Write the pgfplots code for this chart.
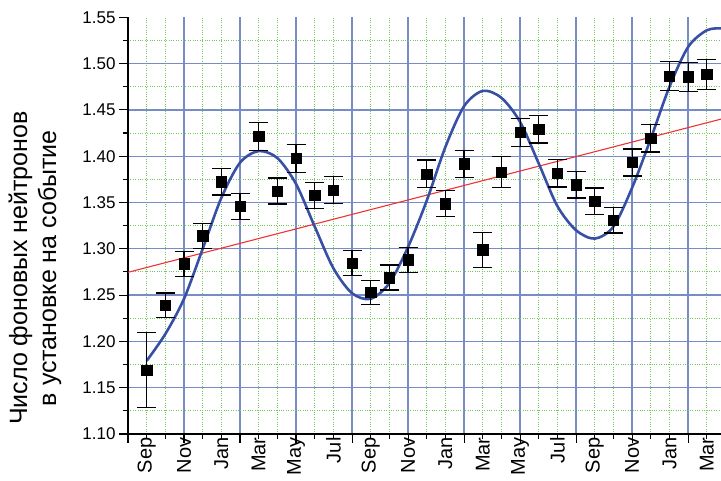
\documentclass[border=0pt]{standalone}
\usepackage{fontspec}
\setmainfont{Liberation Sans}
\usepackage{pgfplots}
\pgfplotsset{compat=1.18}
\definecolor{gridblue}{RGB}{120,140,200}
\definecolor{gridgreen}{RGB}{110,200,90}
\definecolor{fitblue}{RGB}{55,80,165}
\definecolor{fitred}{RGB}{240,50,50}
\begin{document}
\begin{tikzpicture}
\begin{axis}[
 name=ax, scale only axis, width=593bp, height=416.7bp,
 xmin=-1, xmax=30.76, ymin=1.10, ymax=1.55,
 axis lines*=left, axis line style={line width=1.3bp, black, -},
 tick align=outside, tick style={black, line width=1.1bp},
 major tick length=9bp, minor tick length=5bp,
 xtick={-1,2,5,8,11,14,17,20,23,26,29}, xticklabels={},
 minor xtick={0,1,...,30},
 extra x ticks={0,2,...,30},
 extra x tick labels={Sep,Nov,Jan,Mar,May,Jul,Sep,Nov,Jan,Mar,May,Jul,Sep,Nov,Jan,Mar},
 extra x tick style={grid=none, major tick length=0pt},
 xticklabel style={rotate=90, anchor=east, font=\fontsize{20bp}{20bp}\selectfont},
 ytick={1.10,1.15,1.20,1.25,1.30,1.35,1.40,1.45,1.50},
 minor ytick={1.125,1.175,1.225,1.275,1.325,1.375,1.425,1.475,1.525},
 extra y ticks={1.55}, extra y tick style={grid=none},
 grid=both,
 major grid style={gridblue, line width=1.3bp},
 minor grid style={gridgreen, dotted, line width=0.9bp},
 yticklabel style={font=\fontsize{17bp}{17bp}\selectfont},
 /pgf/number format/fixed, /pgf/number format/fixed zerofill, /pgf/number format/precision=2,
 /pgf/number format/assume math mode=true,
 ylabel={Число фоновых нейтронов\\в установке на событие},
 ylabel style={at={(axis description cs:-0.157,0.398)}, anchor=center, align=center, font=\fontsize{25bp}{29bp}\selectfont},
]
\addplot[fitred, line width=1.1bp] coordinates {(-1,1.2746) (31,1.4413)};
\addplot[fitblue, line width=2.6bp, smooth] coordinates {
(0,1.179) (1,1.208) (2,1.246) (3,1.300) (4,1.355) (5,1.393) (6,1.4055) (7,1.398) (8,1.370) (9,1.324) (10,1.279) (11,1.252)
(12,1.246) (13,1.263) (14,1.302) (15,1.352) (16,1.410) (17,1.454) (18,1.4705) (19,1.463) (20,1.437) (21,1.392) (22,1.346) (23,1.320)
(24,1.311) (25,1.324) (26,1.366) (27,1.419) (28,1.475) (29,1.518) (30,1.536) (30.8,1.538)};
\addplot[only marks, mark=square*, mark size=5.2bp, mark options={black, fill=black},
 error bars/.cd, y dir=both, y explicit,
 error bar style={line width=1.2bp, black},
 error mark options={black, line width=1.2bp, mark size=9.5bp, rotate=90}]
 table[x=x, y=y, y error=e] {
x y e
0 1.169 0.0403
1 1.239 0.0133
2 1.284 0.0135
3 1.314 0.0134
4 1.3725 0.0144
5 1.3457 0.0143
6 1.4214 0.0152
7 1.3624 0.014
8 1.3978 0.015
9 1.3577 0.0142
10 1.3635 0.0148
11 1.2845 0.0135
12 1.2529 0.013
13 1.2689 0.0135
14 1.2881 0.0137
15 1.3808 0.015
16 1.3489 0.0143
17 1.3917 0.0146
18 1.2989 0.019
19 1.3826 0.0168
20 1.4257 0.015
21 1.4293 0.015
22 1.3818 0.015
23 1.3692 0.0144
24 1.3514 0.0142
25 1.3308 0.0138
26 1.3932 0.0146
27 1.4196 0.015
28 1.4865 0.0155
29 1.4858 0.0156
30 1.4883 0.016
};
\end{axis}
\pgfresetboundingbox
\path[use as bounding box] ([xshift=-128bp, yshift=-47bp]ax.south west) rectangle ([yshift=17.3bp]ax.north east);
\end{tikzpicture}
\end{document}
